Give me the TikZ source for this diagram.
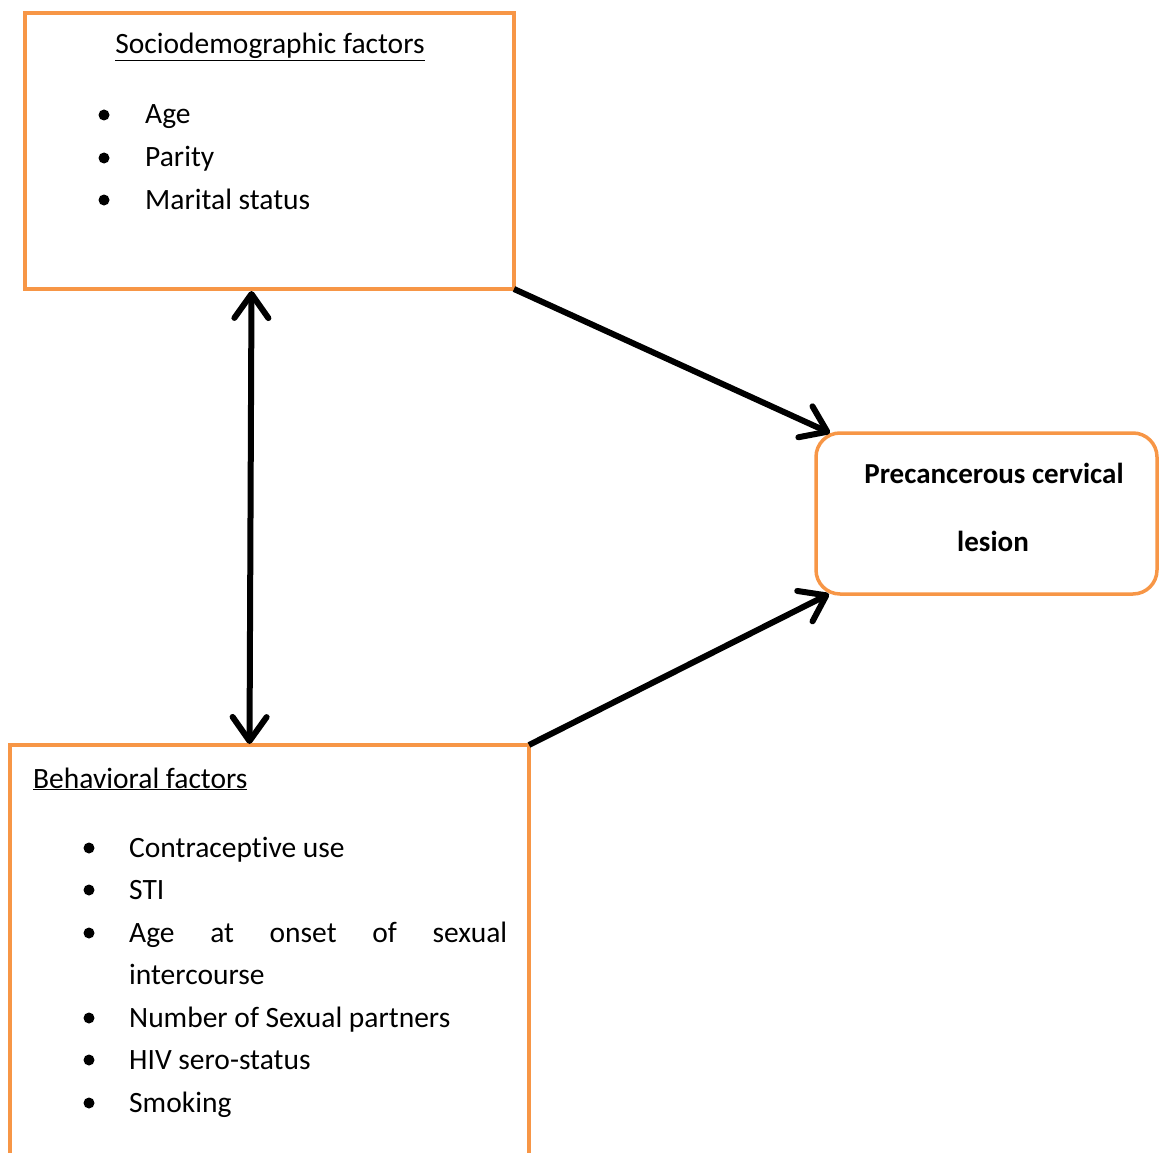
\documentclass[tikz,border=0pt]{standalone}
\usepackage{fontspec}
\setmainfont{Carlito}[Ligatures=NoCommon]
\usetikzlibrary{arrows.meta}
\definecolor{box edge}{HTML}{F79646}
\tikzset{factorbox/.style={draw=box edge, line width=3.5pt, fill=white, outer sep=0pt, inner sep=0pt},
	arr/.style={line width=6pt, -{Straight Barb[length=24pt,width=34pt,round]}},
	biarr/.style={line width=6pt, {Straight Barb[length=24pt,width=34pt,round]}-{Straight Barb[length=24pt,width=34pt,round]}},
	dot/.style={circle, fill=black, inner sep=0pt, minimum size=11pt},
	txt/.style={anchor=base west, inner sep=0pt, font=\fontsize{29.5pt}{35pt}\selectfont}}

\begin{document}
\begin{tikzpicture}[x=1pt,y=-1pt]
		\useasboundingbox (0,0) rectangle (1159,1153);
		% boxes
		\node[factorbox, minimum width=489pt, minimum height=276pt] (socio) at (269.5,151) {};
		\node[factorbox, minimum width=519pt, minimum height=460pt] (behav) at (269.5,975) {};
		\node[factorbox, rounded corners=24pt, minimum width=341pt, minimum height=161pt] (lesion) at (986.5,513.5) {};
		
		% sociodemographic
		\node[txt, anchor=base] (sociotitle) at (270,54) {\underline{Sociodemographic factors}};
		\foreach \y/\t [count=\i] in {124/Age, 167/Parity, 209/Marital status}{
			\node[dot] (sb\i) at (104,\y-9) {};
			\node[txt] (st\i) at (145,\y) {\t};
		}
		
		% behavioral
		\node[txt] (behavtitle) at (33,788) {\underline{Behavioral factors}};
		\foreach \y/\t [count=\i] in {857/Contraceptive use, 899/STI, 942/{\makebox[378pt][l]{Age\hfill at\hfill onset\hfill of\hfill sexual}}, 1027/Number of Sexual partners, 1069/HIV sero-status, 1112/Smoking}{
			\node[dot] (bb\i) at (89,\y-9) {};
			\node[txt] (bt\i) at (129,\y) {\t};
		}
		\node[txt] (bt3b) at (129,984) {intercourse};
		
		% outcome
		\node[txt, anchor=base, font=\fontsize{29pt}{35pt}\selectfont\bfseries] (lesion1) at (994,483) {Precancerous cervical};
		\node[txt, anchor=base, font=\fontsize{29pt}{35pt}\selectfont\bfseries] (lesion2) at (993,551) {lesion};
		
		% arrows
		\draw[biarr] ([xshift=-18pt,yshift=-2pt]socio.south) -- ([xshift=-20pt,yshift=1pt]behav.north);
		\draw[arr] (socio.south east) -- ([xshift=14pt]lesion.north west);
		\draw[arr] (behav.north east) -- ([xshift=13pt]lesion.south west);
		\end{tikzpicture}
\end{document}
